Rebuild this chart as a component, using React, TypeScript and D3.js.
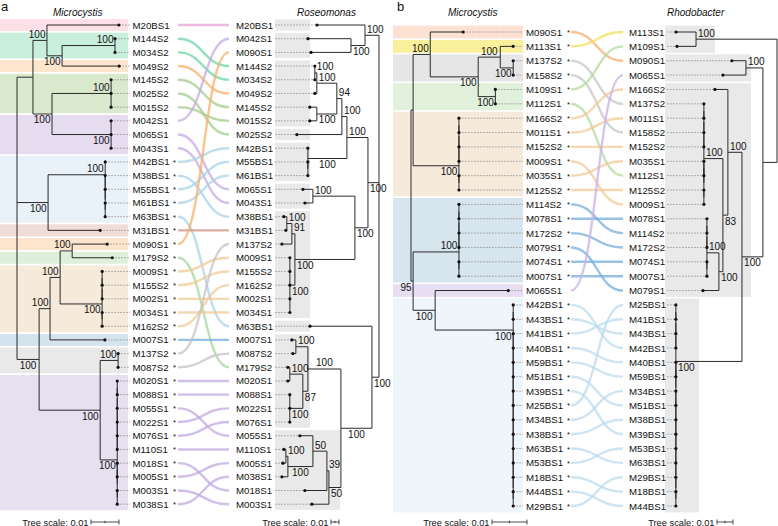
import React from 'react';
import * as d3 from 'd3';

// ---------------- DATA ----------------
// Newick trees (branch lengths in substitutions/site, internal labels = bootstrap support)
const TREE_A_MICROCYSTIS =
  "(((M20BS1:0.0257,((M144S2,M034S2)100:0.0189,M049S2:0.0204)100:0.0054)100:0.0050,((M145S2,M025S2,M015S2)100:0.0211,(M042S1,M065S1,M043S1)100:0.0211)100:0.0068):0.0057," +
  "((M42BS1,(M38BS1,(M55BS1,(M61BS1,M63BS1))))100:0.0204,M31BS1:0.0186)100:0.0111," +
  "((((M090S1:0.0125,M179S2:0.0143)100:0.0043,(((M009S1,M155S2),M002S1),(M034S1,M162S2))100:0.0150)100:0.0036,M007S1:0.0196)100:0.0039,((M137S2,M087S2)100:0.0064,((((((M020S1,M088S1),M055S1),M022S1),M076S1),M110S1),((M018S1,M005S1),(M003S1,M038S1)))100:0.0061)100:0.0218)100:0.0079);";

const TREE_A_ROSEOMONAS =
  "((M20BS1:0.0600,(M042S1:0.0538,M090S1:0.0500)100:0.0175)100:0.0175," +
  "((((((M144S2,M034S2)100:0.0025,M049S2:0.0025)100:0.0250,(M145S2:0.0088,M015S2:0.0088)100:0.0250)94:0.0063,M025S2:0.0563)100:0.0063,(M42BS1,(M55BS1,M61BS1))100:0.0488)100:0.0263," +
  "((M065S1:0.0125,M043S1:0.0100)100:0.0525,(((M38BS1:0.0038,M31BS1:0.0013)100:0.0063,M137S2:0.0125)91:0.0038,(M009S1,M155S2,M162S2,M002S1,M034S1)100:0.0063)100:0.0750)100:0.0163)100:0.0138," +
  "(M63BS1:0.0775,(((M007S1:0.0050,M087S2:0.0038)100:0.0150,((M179S2:0.0025,M020S1:0.0025)100:0.0163,(M088S1,M022S1,M076S1)100:0.0163)87:0.0063)100:0.0413,(((M055S1:0.0163,((M110S1:0.0025,M005S1:0.0038)100:0.0025,M038S1:0.0075)100:0.0313)50:0.0175,M018S1:0.0275)39:0.0025,M003S1:0.0213)50:0.0150)100:0.0388)100:0.0088);";

const TREE_B_MICROCYSTIS =
  "(((M090S1:0.0094,((M113S1:0.0037,(M137S2,M158S2)100:0.0037)100:0.0063,(M109S1,M112S1)100:0.0049)100:0.0137)100:0.0049,((((M166S2,M011S1),M152S2),M009S1),(M035S1,M125S2))100:0.0131):0.0006," +
  "(((((M114S2,M078S1),M172S2),M079S1),(M074S1,M007S1))100:0.0131,(M065S1:0.0209,((M42BS1,M43BS1),(M41BS1,(M40BS1,(M59BS1,(M51BS1,(M39BS1,(M25BS1,(M34BS1,(M38BS1,(M63BS1,(M53BS1,(M18BS1,(M44BS1,M29BS1)))))))))))))100:0.0223)100:0.0063)95:0.0006);";

const TREE_B_RHODOBACTER =
  "((M113S1:0.0125,M109S1:0.0119)100:0.0506," +
  "((M090S1:0.0088,M065S1:0.0144)100:0.0106," +
  "((M166S2:0.0081,(((((M137S2,M011S1),M158S2),M152S2),((M035S1,M112S1),(M125S2,M009S1)))100:0.0119,((((M078S1,M114S2),M172S2),(M074S1,M007S1))100:0.0075,M079S1:0.0100)100:0.0025)83:0.0031)100:0.0088," +
  "((((M25BS1,M41BS1),M43BS1),M42BS1),((M40BS1,M59BS1),(M34BS1,(M51BS1,(M38BS1,(M39BS1,(M53BS1,(M63BS1,(M29BS1,(M18BS1,M44BS1))))))))))100:0.0413)100:0.0131):0.0088);";

// Leaves of the Microcystis trees that carry no asterisk
const UNSTARRED_A = ['M20BS1', 'M144S2', 'M034S2', 'M049S2', 'M145S2', 'M025S2', 'M015S2', 'M042S1', 'M065S1', 'M043S1'];
const UNSTARRED_B = ['M065S1'];

// Coloured clades of the Microcystis trees (first leaf, last leaf)
const GROUPS_A = [
  ['M20BS1', 'M20BS1'], ['M144S2', 'M034S2'], ['M049S2', 'M049S2'], ['M145S2', 'M015S2'],
  ['M042S1', 'M043S1'], ['M42BS1', 'M63BS1'], ['M31BS1', 'M31BS1'], ['M090S1', 'M090S1'],
  ['M179S2', 'M179S2'], ['M009S1', 'M162S2'], ['M007S1', 'M007S1'], ['M137S2', 'M087S2'],
  ['M020S1', 'M038S1'],
];
const GROUPS_B = [
  ['M090S1', 'M090S1'], ['M113S1', 'M113S1'], ['M137S2', 'M158S2'], ['M109S1', 'M112S1'],
  ['M166S2', 'M125S2'], ['M114S2', 'M007S1'], ['M065S1', 'M065S1'], ['M42BS1', 'M29BS1'],
];

// Shaded clades of the symbiont trees (first leaf, last leaf)
const BOXES_A = [
  ['M20BS1', 'M20BS1'], ['M042S1', 'M090S1'], ['M144S2', 'M015S2'], ['M025S2', 'M025S2'],
  ['M42BS1', 'M61BS1'], ['M065S1', 'M043S1'], ['M38BS1', 'M034S1'], ['M63BS1', 'M63BS1'],
  ['M007S1', 'M076S1'], ['M055S1', 'M003S1'],
];
const BOXES_B = [
  ['M113S1', 'M109S1'], ['M090S1', 'M065S1'], ['M166S2', 'M079S1'], ['M25BS1', 'M44BS1'],
];

// ---------------- STYLES ----------------
const BAND_A = ['#fbe1e7', '#c8eedc', '#fde6cd', '#d9e9cd', '#e5dcf0', '#e9f2f9', '#f0ddd7', '#fde4cc', '#def0d9', '#f6eadb', '#d4e4ef', '#e9e9e9', '#e7e0f1'];
const LINK_A = ['#e6a3d4', '#6fd6a8', '#f7b068', '#a2ce88', '#c4aae2', '#a8d3ea', '#cc937d', '#f7b068', '#a3d897', '#f1ca96', '#70abd9', '#c4c4c4', '#c2a9e0'];
const BAND_B = ['#fde2d3', '#f8f09b', '#e6e6e6', '#e2f1dc', '#f6eadb', '#d6e5ee', '#e7def2', '#eef5fb'];
const LINK_B = ['#f5ae72', '#efe05a', '#c6c6c6', '#b3dc9e', '#f1ca96', '#76aedb', '#c8b0e6', '#bcdbee'];
const BOX_X1_A = [310, 310, 310, 310, 310, 310, 310, 310, 310, 340];
const BOX_X1_B = [715, 751, 751, 699];

const FONT = "'Liberation Sans', Arial, Helvetica, sans-serif";
const LINE = '#2a2a2a';

// ---------------- TREE UTILITIES ----------------
type TNode = { name: string; length: number; children: TNode[] };

function parseNewick(src: string): TNode {
  const s = src.replace(/\s+/g, '').replace(/;$/, '');
  let i = 0;
  const read = (stop: string) => {
    let t = '';
    while (i < s.length && !stop.includes(s[i])) t += s[i++];
    return t;
  };
  const node = (): TNode => {
    const n: TNode = { name: '', length: 0, children: [] };
    if (s[i] === '(') {
      i++;
      n.children.push(node());
      while (s[i] === ',') { i++; n.children.push(node()); }
      i++;
    }
    n.name = read(',():');
    if (s[i] === ':') { i++; n.length = parseFloat(read(',()')) || 0; }
    return n;
  };
  return node();
}

function buildTree(newick: string, yTop: number, yBottom: number, rootX: number, dir: number, px001: number) {
  const h: any = d3.hierarchy(parseNewick(newick), (d: TNode) => (d.children.length ? d.children : undefined));
  const names: string[] = h.leaves().map((l: any) => l.data.name);
  const y = d3.scalePoint<string>().domain(names).range([yTop, yBottom]);
  const x = d3.scaleLinear().domain([0, 0.01]).range([rootX, rootX + dir * px001]);
  h.eachBefore((n: any) => {
    n.dist = n.parent ? n.parent.dist + n.data.length : 0;
    n.X = x(n.dist);
  });
  h.eachAfter((n: any) => {
    n.Y = n.children ? (n.children[0].Y + n.children[n.children.length - 1].Y) / 2 : (y(n.data.name) as number);
  });
  return { h, names, y };
}

function TreeDraw({ tree, side }: { tree: any; side: 'left' | 'right' }) {
  const nodes: any[] = tree.h.descendants();
  const els: React.ReactNode[] = [];
  nodes.forEach((n, k) => {
    if (n.parent && Math.abs(n.parent.X - n.X) > 0.01) {
      els.push(<line key={'h' + k} x1={n.parent.X} x2={n.X} y1={n.Y} y2={n.Y} stroke={LINE} strokeWidth={1} />);
    }
    if (n.children) {
      const a = n.children[0].Y, b = n.children[n.children.length - 1].Y;
      els.push(<line key={'v' + k} x1={n.X} x2={n.X} y1={a} y2={b} stroke={LINE} strokeWidth={1} />);
    }
  });
  nodes.forEach((n, k) => {
    if (n.children && n.data.name) {
      const w = n.data.name.length * 5.56;
      const first = n.parent && n.parent.children[0] === n;
      const ty = first ? n.Y - 2.5 : n.Y + 9.5;
      const br = n.parent ? Math.abs(n.parent.X - n.X) : 0;
      const mid = n.parent ? (n.parent.X + n.X) / 2 : n.X;
      if (side === 'left') {
        let end = n.X - 1.5;
        if (n.parent && br <= 25) end = Math.min(end, mid + w / 2);
        els.push(<text key={'s' + k} x={end} y={ty} textAnchor="end" fontSize={10} fill="#111">{n.data.name}</text>);
      } else {
        let start = n.X + 2;
        if (n.parent && br <= 40) start = Math.max(start, mid - w / 2);
        els.push(<text key={'s' + k} x={start} y={ty} textAnchor="start" fontSize={10} fill="#111">{n.data.name}</text>);
      }
    }
  });
  tree.h.leaves().forEach((l: any, k: number) => {
    els.push(<circle key={'c' + k} cx={l.X} cy={l.Y} r={1.6} fill="#111" />);
  });
  return <g>{els}</g>;
}

function groupIndex(names: string[], groups: string[][]) {
  const m = new Map<string, number>();
  groups.forEach((g, gi) => {
    const a = names.indexOf(g[0]), b = names.indexOf(g[1]);
    for (let i = a; i <= b; i++) m.set(names[i], gi);
  });
  return m;
}

type PanelCfg = {
  letter: string; letterX: number;
  leftTree: string; rightTree: string;
  yTop: number; yBottom: number;
  leftRoot: number; leftPx: number; rightRoot: number; rightPx: number;
  bandX0: number; bandX1: number; bandHalf: number;
  dashEnd: number; labelX: number; starX: number;
  linkX0: number; linkX1: number;
  rLabelX: number; rDashStart: number;
  boxX0: number; boxX1: number[]; boxHalf: number;
  groups: string[][]; bands: string[]; links: string[]; boxes: string[][];
  unstarred: string[];
  hostTitleX: number; symTitle: string; symTitleX: number;
  barL: number; barR: number;
};

const PANEL_A: PanelCfg = {
  letter: 'a', letterX: 1,
  leftTree: TREE_A_MICROCYSTIS, rightTree: TREE_A_ROSEOMONAS,
  yTop: 25, yBottom: 504.2,
  leftRoot: 17, leftPx: 28, rightRoot: 379, rightPx: 8,
  bandX0: 0, bandX1: 128, bandHalf: 6,
  dashEnd: 130, labelX: 132.5, starX: 173,
  linkX0: 178, linkX1: 229,
  rLabelX: 236, rDashStart: 275,
  boxX0: 275, boxX1: BOX_X1_A, boxHalf: 5.6,
  groups: GROUPS_A, bands: BAND_A, links: LINK_A, boxes: BOXES_A,
  unstarred: UNSTARRED_A,
  hostTitleX: 53, symTitle: 'Roseomonas', symTitleX: 297,
  barL: 91, barR: 331,
};

const PANEL_B: PanelCfg = {
  letter: 'b', letterX: 397,
  leftTree: TREE_B_MICROCYSTIS, rightTree: TREE_B_RHODOBACTER,
  yTop: 32, yBottom: 506,
  leftRoot: 411, leftPx: 35, rightRoot: 777, rightPx: 16,
  bandX0: 393, bandX1: 523, bandHalf: 6.4,
  dashEnd: 523, labelX: 526, starX: 567,
  linkX0: 571, linkX1: 623,
  rLabelX: 629, rDashStart: 667,
  boxX0: 665, boxX1: BOX_X1_B, boxHalf: 6.4,
  groups: GROUPS_B, bands: BAND_B, links: LINK_B, boxes: BOXES_B,
  unstarred: UNSTARRED_B,
  hostTitleX: 448, symTitle: 'Rhodobacter', symTitleX: 667,
  barL: 492, barR: 717,
};

function ScaleBar({ x, len }: { x: number; len: number }) {
  const y = 522;
  return (
    <g>
      <text x={x - 2.5} y={525.5} textAnchor="end" fontSize={9.3} fill="#111">Tree scale: 0.01</text>
      <line x1={x} x2={x + len} y1={y} y2={y} stroke="#222" strokeWidth={0.8} />
      <line x1={x} x2={x} y1={y - 2.5} y2={y + 2.5} stroke="#222" strokeWidth={0.8} />
      <line x1={x + len} x2={x + len} y1={y - 2.5} y2={y + 2.5} stroke="#222" strokeWidth={0.8} />
      <line x1={x + len / 2} x2={x + len / 2} y1={y - 1.2} y2={y + 1.2} stroke="#222" strokeWidth={0.8} />
    </g>
  );
}

function Panel({ c }: { c: PanelCfg }) {
  const L = buildTree(c.leftTree, c.yTop, c.yBottom, c.leftRoot, 1, c.leftPx);
  const R = buildTree(c.rightTree, c.yTop, c.yBottom, c.rightRoot, -1, c.rightPx);
  const gi = groupIndex(L.names, c.groups);
  const leafL = new Map<string, any>(L.h.leaves().map((l: any) => [l.data.name, l]));
  const leafR = new Map<string, any>(R.h.leaves().map((l: any) => [l.data.name, l]));
  const link = d3.linkHorizontal();

  return (
    <g>
      {c.groups.map((g, i) => {
        const y0 = (L.y(g[0]) as number) - c.bandHalf;
        const y1 = (L.y(g[1]) as number) + c.bandHalf;
        return <rect key={'band' + i} x={c.bandX0} y={y0} width={c.bandX1 - c.bandX0} height={y1 - y0} fill={c.bands[i]} />;
      })}
      {c.boxes.map((g, i) => {
        const y0 = (R.y(g[0]) as number) - c.boxHalf;
        const y1 = (R.y(g[1]) as number) + c.boxHalf;
        return <rect key={'box' + i} x={c.boxX0} y={y0} width={c.boxX1[i] - c.boxX0} height={y1 - y0} fill="#e9e9e9" />;
      })}
      {L.names.map((n) => {
        const l = leafL.get(n);
        return <line key={'dl' + n} x1={l.X} x2={c.dashEnd} y1={l.Y} y2={l.Y} stroke="#8a8a8a" strokeWidth={0.7} strokeDasharray="1.8 1.2" />;
      })}
      {R.names.map((n) => {
        const l = leafR.get(n);
        return <line key={'dr' + n} x1={c.rDashStart} x2={l.X} y1={l.Y} y2={l.Y} stroke="#8a8a8a" strokeWidth={0.7} strokeDasharray="1.8 1.2" />;
      })}
      <TreeDraw tree={L} side="left" />
      <TreeDraw tree={R} side="right" />
      {L.names.map((n) => {
        const a = leafL.get(n), b = leafR.get(n);
        if (!b) return null;
        const col = c.links[gi.get(n) ?? 0];
        return (
          <path key={'lk' + n} d={link({ source: [c.linkX0, a.Y], target: [c.linkX1, b.Y] } as any) as string}
            fill="none" stroke={col} strokeWidth={2.4} strokeOpacity={0.75} />
        );
      })}
      {L.names.map((n) => {
        const l = leafL.get(n);
        return (
          <g key={'tl' + n}>
            <text x={c.labelX} y={l.Y + 3.5} fontSize={9.7} fill="#111">{n}</text>
            {!c.unstarred.includes(n) && <text x={c.starX} y={l.Y + 3} fontSize={7.5} fill="#111">*</text>}
          </g>
        );
      })}
      {R.names.map((n) => {
        const l = leafR.get(n);
        return <text key={'tr' + n} x={c.rLabelX} y={l.Y + 3.5} fontSize={9.7} fill="#111">{n}</text>;
      })}
      <text x={c.letterX} y={11} fontSize={13} fill="#111">{c.letter}</text>
      <text x={c.hostTitleX} y={15.5} fontSize={10} fontStyle="italic" fill="#111">Microcystis</text>
      <text x={c.symTitleX} y={15.5} fontSize={10} fontStyle="italic" fill="#111">{c.symTitle}</text>
      <ScaleBar x={c.barL} len={c.leftPx} />
      <ScaleBar x={c.barR} len={c.rightPx} />
    </g>
  );
}

export default function App() {
  return (
    <svg width={778} height={526} style={{ position: 'absolute', left: 0, top: 0, background: '#fff', fontFamily: FONT }}>
      <rect x={0} y={0} width={778} height={526} fill="#fff" />
      <Panel c={PANEL_A} />
      <Panel c={PANEL_B} />
    </svg>
  );
}
